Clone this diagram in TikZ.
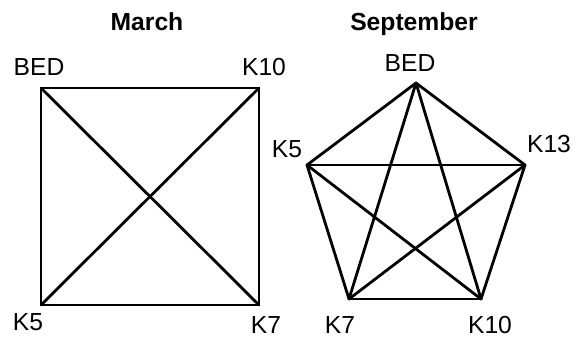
\documentclass[tikz,border=0pt]{standalone}
\usepackage{fontspec}
\setmainfont{Liberation Sans}
\begin{document}
\begin{tikzpicture}[x=0.75pt, y=-0.75pt,
            edge/.style={line width=2.1pt, line cap=round, line join=round},
            vlabel/.style={font=\fontsize{18.5}{20}\selectfont, inner sep=0pt, anchor=base},
            title/.style={font=\fontsize{18.5}{20}\selectfont\bfseries, inner sep=0pt, anchor=base},
        ]
            \useasboundingbox (0,0) rectangle (581,337);

            % March: square with both diagonals
            \node[title] (march) at (147, 30) {March};
            \coordinate (mbed) at (41, 88);
            \coordinate (mk10) at (259, 88);
            \coordinate (mk7) at (259, 305);
            \coordinate (mk5) at (41, 305);
            \node[vlabel] (mbedl) at (39, 75) {BED};
            \node[vlabel] (mk10l) at (264, 75) {K10};
            \node[vlabel] (mk5l) at (28, 330) {K5};
            \node[vlabel] (mk7l) at (266, 333) {K7};
            \draw[edge] (mbed) -- (mk10) -- (mk7) -- (mk5) -- cycle;
            \draw[edge] (mbed) -- (mk7);
            \draw[edge] (mk10) -- (mk5);

            % September: pentagon, every pair joined
            \node[title] (sept) at (414, 30) {September};
            \coordinate (sbed) at (416, 83);
            \coordinate (sk13) at (525, 165);
            \coordinate (sk10) at (481, 299);
            \coordinate (sk7) at (349, 299);
            \coordinate (sk5) at (307, 165);
            \node[vlabel] (sbedl) at (410, 71) {BED};
            \node[vlabel] (sk13l) at (549, 152) {K13};
            \node[vlabel] (sk10l) at (490, 333) {K10};
            \node[vlabel] (sk7l) at (340, 333) {K7};
            \node[vlabel] (sk5l) at (287, 157) {K5};
            \foreach \a/\b in {sbed/sk13, sbed/sk10, sbed/sk7, sbed/sk5,
                               sk13/sk10, sk13/sk7, sk13/sk5,
                               sk10/sk7, sk10/sk5, sk7/sk5}
                \draw[edge] (\a) -- (\b);
        \end{tikzpicture}
\end{document}
